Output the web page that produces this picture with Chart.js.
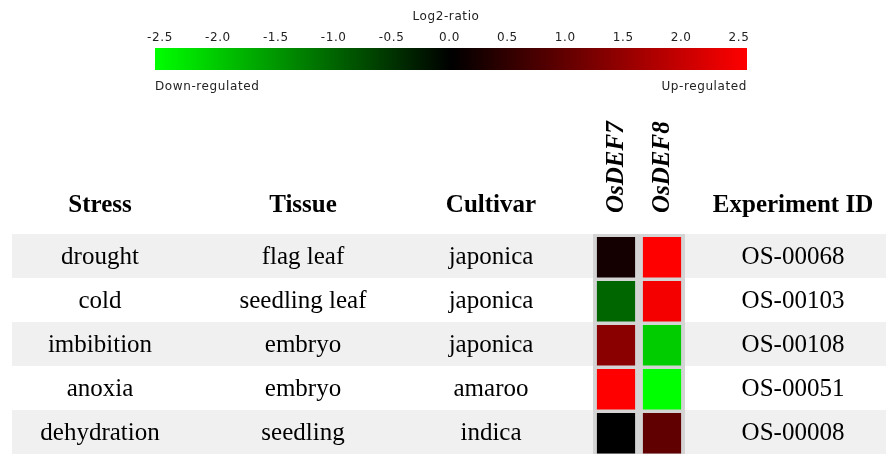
<!DOCTYPE html>
<html>
<head>
<meta charset="utf-8">
<script src="https://cdn.jsdelivr.net/npm/chart.js@4.4.1/dist/chart.umd.min.js"></script>
<style>
  html, body { margin: 0; padding: 0; background: #fff; }
  #wrap { width: 886px; height: 454px; position: relative; }
</style>
</head>
<body>
<div id="wrap"><canvas id="heat"></canvas></div>
<script>
// data
const genes = ['OsDEF7', 'OsDEF8'];
const stress = ['drought', 'cold', 'imbibition', 'anoxia', 'dehydration'];
const tissue = ['flag leaf', 'seedling leaf', 'embryo', 'embryo', 'seedling'];
const cultivar = ['japonica', 'japonica', 'japonica', 'amaroo', 'indica'];
const experimentIds = ['OS-00068', 'OS-00103', 'OS-00108', 'OS-00051', 'OS-00008'];
const osdef7 = [0.2, -1.0, 1.35, 2.5, 0.0];
const osdef8 = [2.5, 2.4, -2.0, -2.5, 0.95];
const headers = ['Stress', 'Tissue', 'Cultivar', 'Experiment ID'];
const colorTicks = ['-2.5', '-2.0', '-1.5', '-1.0', '-0.5', '0.0', '0.5', '1.0', '1.5', '2.0', '2.5'];
const ratioMax = 2.5;

// log2 ratio -> green/black/red
function log2Color(v) {
    const t = Math.min(Math.abs(v) / ratioMax, 1);
    const c = Math.round(t * 255);
    return v < 0 ? `rgb(0,${c},0)` : `rgb(${c},0,0)`;
}

const tableColumns = [stress, tissue, cultivar, experimentIds];
const columnX = [100, 303, 491, 793];

const tablePlugin = {
    id: 'tablePlugin',
    beforeDraw(chart) {
        const { ctx, chartArea, scales } = chart;
        const y = scales.y;
        ctx.save();
        ctx.fillStyle = '#fff';
        ctx.fillRect(0, 0, chart.width, chart.height);
        // zebra stripes
        ctx.fillStyle = '#f0f0f0';
        stress.forEach((s, r) => {
            if (r % 2 === 0) {
                const y0 = y.getPixelForValue(r);
                const y1 = y.getPixelForValue(r + 1);
                ctx.fillRect(12, y0, chart.width - 12, y1 - y0);
            }
        });
        // heatmap backdrop
        ctx.fillStyle = '#d4d4d4';
        ctx.fillRect(chartArea.left, chartArea.top, chartArea.right - chartArea.left, chartArea.bottom - chartArea.top);
        ctx.restore();
    },
    afterDraw(chart) {
        const { ctx, scales } = chart;
        const x = scales.x;
        const y = scales.y;
        ctx.save();
        ctx.fillStyle = '#000';
        ctx.textAlign = 'center';
        ctx.textBaseline = 'alphabetic';

        // headers
        ctx.font = 'bold 25px "Liberation Serif"';
        headers.forEach((h, i) => ctx.fillText(h, columnX[i], 212));

        // gene names, rotated
        ctx.font = 'italic bold 25px "Liberation Serif"';
        genes.forEach((g, i) => {
            ctx.save();
            ctx.translate(x.getPixelForValue(i) + 7, chart.chartArea.top - 21);
            ctx.rotate(-Math.PI / 2);
            ctx.textAlign = 'left';
            ctx.fillText(g, 0, 0);
            ctx.restore();
        });

        // rows
        ctx.font = '25px "Liberation Serif"';
        tableColumns.forEach((col, i) => {
            col.forEach((txt, r) => {
                ctx.fillText(txt, columnX[i], y.getPixelForValue(r + 0.5) + 8);
            });
        });

        // colour key
        const barL = 155, barR = 747, barT = 48, barB = 70;
        const grad = ctx.createLinearGradient(barL, 0, barR, 0);
        colorTicks.forEach((t, i) => grad.addColorStop(i / (colorTicks.length - 1), log2Color(parseFloat(t))));
        ctx.fillStyle = grad;
        ctx.fillRect(barL, barT, barR - barL, barB - barT);

        ctx.fillStyle = '#222';
        ctx.font = '12px "DejaVu Sans"';
        ctx.letterSpacing = '0.6px';
        ctx.textBaseline = 'middle';
        ctx.textAlign = 'center';
        ctx.fillText('Log2-ratio', 446, 17);
        const t0 = 160, t1 = 739;
        colorTicks.forEach((t, i) => {
            ctx.fillText(t, t0 + i * (t1 - t0) / (colorTicks.length - 1), 38);
        });
        ctx.textAlign = 'left';
        ctx.fillText('Down-regulated', barL, 87);
        ctx.textAlign = 'right';
        ctx.fillText('Up-regulated', barR, 87);
        ctx.restore();
    }
};

const datasets = stress.map((s, r) => ({
    label: s,
    data: genes.map(() => [r + 0.07, r + 0.99]),
    backgroundColor: [osdef7[r], osdef8[r]].map(log2Color),
    borderWidth: 0,
    grouped: false,
    categoryPercentage: 1,
    barPercentage: 0.83,
}));

new Chart(document.getElementById('heat').getContext('2d'), {
    type: 'bar',
    data: { labels: genes, datasets: datasets },
    options: {
        responsive: true,
        maintainAspectRatio: false,
        animation: false,
        layout: { padding: { left: 593, right: 201, top: 114, bottom: 0 } },
        plugins: { legend: { display: false }, tooltip: { enabled: false } },
        scales: {
            x: {
                type: 'category',
                position: 'top',
                grid: { display: false, drawTicks: false },
                border: { display: false },
                ticks: { display: false },
                afterFit(scale) { scale.height = 120; },
            },
            y: { type: 'linear', min: 0, max: 5, reverse: true, display: false },
        },
    },
    plugins: [tablePlugin],
});
</script>
</body>
</html>
